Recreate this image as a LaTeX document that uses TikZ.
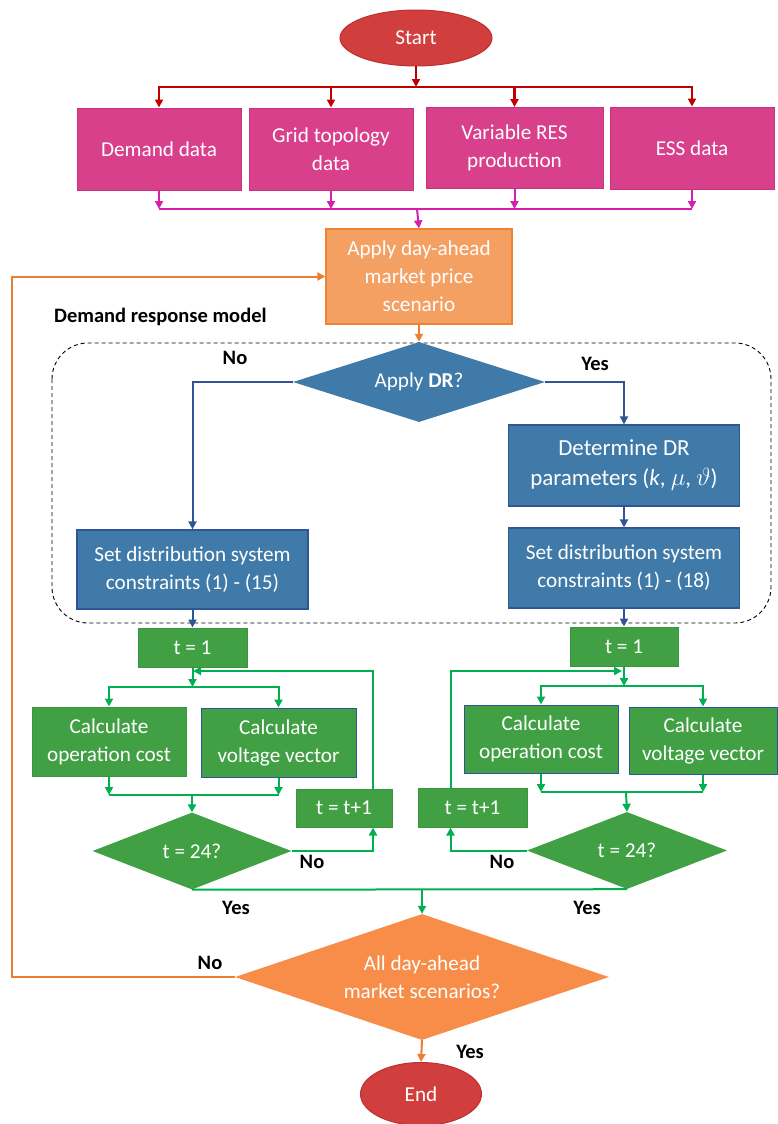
\documentclass[tikz,border=0pt]{standalone}
\usepackage{fontspec}
\setmainfont{Carlito}
\usetikzlibrary{arrows.meta,shapes.geometric}
\definecolor{endred}{RGB}{208,62,62}
\definecolor{endredline}{RGB}{190,48,48}
\definecolor{linered}{RGB}{192,0,0}
\definecolor{datapink}{RGB}{216,64,140}
\definecolor{datapinkline}{RGB}{200,50,125}
\definecolor{linemag}{RGB}{214,30,175}
\definecolor{priceorange}{RGB}{244,160,98}
\definecolor{priceorangeline}{RGB}{240,130,50}
\definecolor{lineorange}{RGB}{237,125,49}
\definecolor{askorange}{RGB}{247,141,73}
\definecolor{drblue}{RGB}{64,122,168}
\definecolor{drblueline}{RGB}{47,85,151}
\definecolor{stepgreen}{RGB}{64,160,67}
\definecolor{stepgreenline}{RGB}{56,150,60}
\definecolor{linegreen}{RGB}{0,176,80}

\begin{document}
\begin{tikzpicture}[x=1pt,y=-1pt,>={Triangle[length=8pt,width=8pt]},
  font=\fontsize{21.2}{28}\selectfont,
  every node/.style={text=white,align=center,inner sep=0pt},
  terminal/.style={ellipse,draw=endredline,line width=1pt,fill=endred,minimum width=152pt,minimum height=56pt},
  databox/.style={draw=datapinkline,line width=1pt,fill=datapink,minimum width=164pt,minimum height=82pt},
  pricebox/.style={draw=priceorangeline,line width=1.2pt,fill=priceorange,minimum width=186pt,minimum height=95pt},
  drbox/.style={draw=drblueline,line width=1.2pt,fill=drblue,minimum width=231pt,minimum height=80pt},
  drask/.style={diamond,aspect=3,fill=drblue,minimum width=252pt,minimum height=80pt},
  stepbox/.style={draw=stepgreenline,line width=1pt,fill=stepgreen},
  stepask/.style={diamond,aspect=3,fill=stepgreen,minimum width=199pt,minimum height=77pt},
  lbl/.style={text=black,font=\fontsize{20.5}{24}\selectfont\bfseries},
  redline/.style={draw=linered,line width=2.4pt},
  magline/.style={draw=linemag,line width=2pt},
  orline/.style={draw=lineorange,line width=2pt},
  blline/.style={draw=drblueline,line width=2pt},
  grline/.style={draw=linegreen,line width=2pt}]
  \useasboundingbox (0,0) rectangle (777,1124);

  % input data
  \node[terminal] (start) at (416,38) {Start};
  \node[databox] (dem) at (159,149) {Demand data};
  \node[databox] (grid) at (331,149) {Grid topology\\data};
  \node[databox,minimum width=177pt,minimum height=81pt] (res) at (514.5,148) {Variable RES\\production};
  \node[databox] (ess) at (692,148) {ESS data};
  \coordinate (split0) at (416,87);
  \coordinate (join0) at (417,209);
  \draw[redline,->] (start.south) -- (split0);
  \foreach \b in {dem,grid,res,ess}
    \draw[redline,->] (split0) -| (\b.north);
  \foreach \b in {dem,grid,res,ess}
    \draw[magline,->] (\b.south) -- (\b.south |- join0);
  \draw[magline] (dem.south |- join0) -- (ess.south |- join0);

  \node[pricebox] (dayahead) at (419,276.5) {Apply day-ahead\\market price\\scenario};
  \draw[magline,->] (join0) -- (dayahead.north);

  % demand response model
  \node[lbl,anchor=west] (drlabel) at (54,317) {Demand response model};
  \draw[dash pattern=on 4pt off 3pt,line width=0.9pt,rounded corners=36pt] (52,343) rectangle (771,623);
  \node[drask] (applydr) at (419,382) {Apply \textbf{DR}?};
  \draw[orline,->] (dayahead.south) -- (applydr.north);
  \node[drbox,minimum height=81pt,font=\fontsize{23}{30}\selectfont] (detdr) at (624,465.5) {Determine DR\\parameters (\textit{k}, $\mu$, $\vartheta$)};
  \node[drbox,minimum height=79pt] (setA) at (192.5,569.5) {Set distribution system\\constraints (1) - (15)};
  \node[drbox] (setB) at (624,568) {Set distribution system\\constraints (1) - (18)};
  \node[lbl] (noDR) at (235,358) {No};
  \node[lbl] (yesDR) at (595,364) {Yes};
  \draw[blline,->] (applydr.west) -| (setA.north);
  \draw[blline,->] (applydr.east) -| (detdr.north);
  \draw[blline,->] (detdr) -- (setB);

  % hourly loop, without DR
  \node[stepbox,minimum width=109pt,minimum height=39pt] (tA) at (192.5,647.5) {t = 1};
  \node[stepbox,minimum width=154pt,minimum height=69pt] (opA) at (109,741.5) {Calculate\\operation cost};
  \node[stepbox,draw=drblueline,minimum width=155pt,minimum height=69pt] (voltA) at (278.5,742.5) {Calculate\\voltage vector};
  \node[stepask] (diaA) at (192,851) {t = 24?};
  \node[stepbox,minimum width=96pt,minimum height=38pt] (incA) at (344,808) {t = t+1};
  \coordinate (splitA) at (192.5,687);
  \coordinate (joinA) at (192,795);
  \coordinate (loopA) at (193,671);
  \draw[blline,->] (setA) -- (tA);
  \draw[grline,->] (tA.south) -- (splitA);
  \draw[grline,->] (splitA) -| (opA.north);
  \draw[grline,->] (splitA) -| (voltA.north);
  \draw[grline,->] (opA.south) -- (opA.south |- joinA);
  \draw[grline,->] (voltA.south) -- (voltA.south |- joinA);
  \draw[grline] (opA.south |- joinA) -- (voltA.south |- joinA);
  \draw[grline,->] (joinA) -- (diaA.north);
  \draw[grline,->] (diaA.east) -| ([xshift=29pt]incA.south);
  \draw[grline,->] ([xshift=29pt]incA.north) |- (loopA);
  \node[lbl] (noA) at (312,862) {No};
  \node[lbl] (yesA) at (236,908) {Yes};

  % hourly loop, with DR
  \node[stepbox,minimum width=108pt,minimum height=39pt] (tB) at (624,646.5) {t = 1};
  \node[stepbox,draw=drblueline,minimum width=154pt,minimum height=68pt] (opB) at (541,739) {Calculate\\operation cost};
  \node[stepbox,draw=drblueline,minimum width=148pt,minimum height=67pt] (voltB) at (703,740.5) {Calculate\\voltage vector};
  \node[stepask,minimum width=200pt] (diaB) at (627,850.5) {t = 24?};
  \node[stepbox,minimum width=109pt,minimum height=39pt] (incB) at (472.5,807.5) {t = t+1};
  \coordinate (splitB) at (624,686);
  \coordinate (joinB) at (626,792);
  \coordinate (loopB) at (622,671);
  \draw[blline,->] (setB) -- (tB);
  \draw[grline,->] (tB.south) -- (splitB);
  \draw[grline,->] (splitB) -| (opB.north);
  \draw[grline,->] (splitB) -| (voltB.north);
  \draw[grline,->] (opB.south) -- (opB.south |- joinB);
  \draw[grline,->] (voltB.south) -- (voltB.south |- joinB);
  \draw[grline] (opB.south |- joinB) -- (voltB.south |- joinB);
  \draw[grline,->] (joinB) -- (diaB.north);
  \draw[grline,->] (diaB.west) -| ([xshift=-22pt]incB.south);
  \draw[grline,->] ([xshift=-22pt]incB.north) |- (loopB);
  \node[lbl] (noB) at (502,862) {No};
  \node[lbl] (yesB) at (587,908) {Yes};

  % scenario check
  \node[diamond,aspect=3,fill=askorange,minimum width=374pt,minimum height=126pt] (alldays) at (422,977) {All day-ahead\\market scenarios?};
  \node[terminal,minimum width=121pt,minimum height=63pt] (finish) at (421,1094) {End};
  \draw[grline] (diaA.south) -- (diaB.south);
  \draw[grline,->] (diaA.south -| alldays.north) -- (alldays.north);
  \draw[orline,->] (alldays.west) -- ++(-223,0) |- (dayahead.west);
  \draw[orline,->] (alldays.south) -- (finish.north);
  \node[lbl] (noAll) at (210,963) {No};
  \node[lbl] (yesAll) at (470,1052) {Yes};
\end{tikzpicture}
\end{document}
